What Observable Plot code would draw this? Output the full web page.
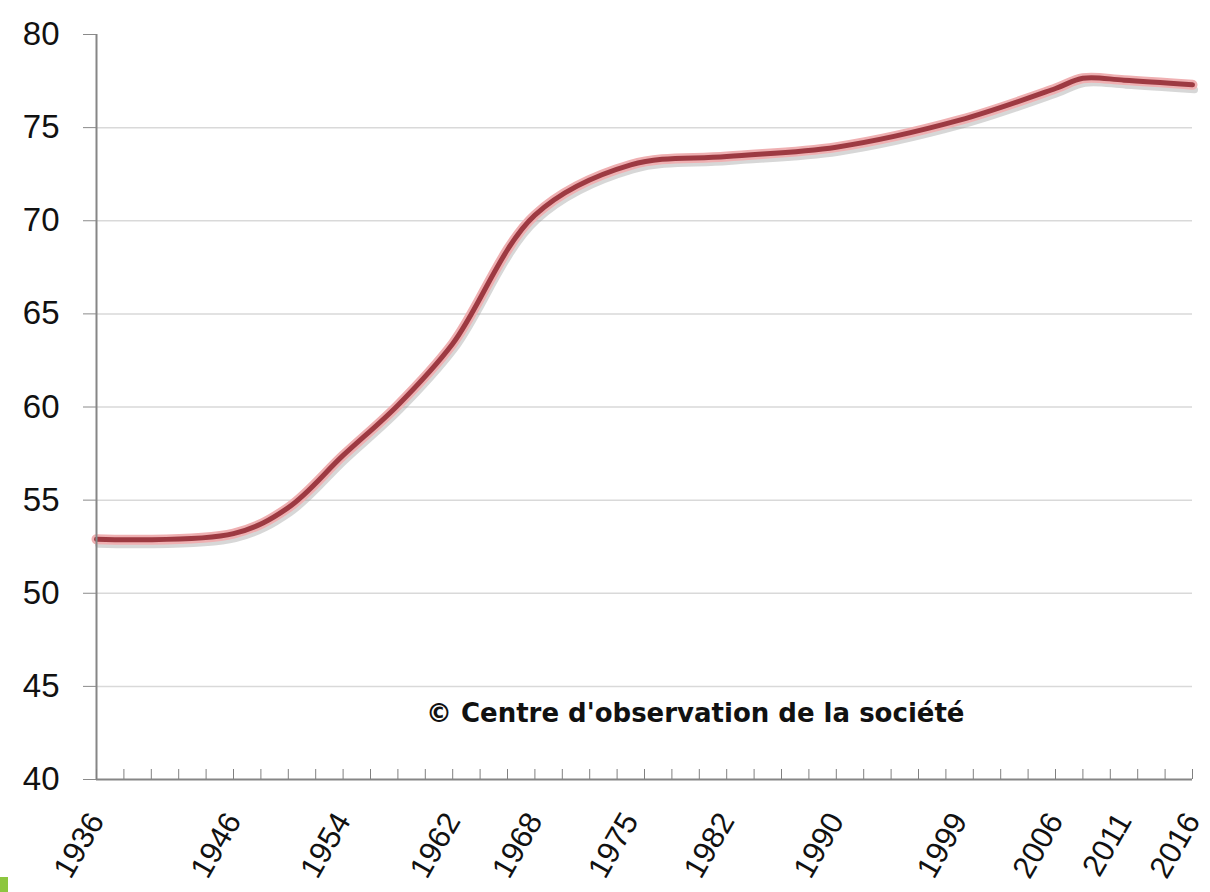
<!DOCTYPE html>
<html>
<head>
<meta charset="utf-8">
<script src="https://cdn.jsdelivr.net/npm/d3@7"></script>
<script src="https://cdn.jsdelivr.net/npm/@observablehq/plot@0.6"></script>
<style>
  html, body { margin: 0; padding: 0; background: #fff; }
  #chart { position: relative; width: 1210px; height: 892px; }
  #mark { position: absolute; left: 0; top: 877px; width: 8px; height: 15px; background: #8dc63f; }
</style>
</head>
<body>
<div id="chart"><div id="mark"></div></div>
<script>
// Data
const years  = [1936, 1946, 1950, 1954, 1958, 1962, 1968, 1975, 1982, 1990, 1999, 2006, 2008, 2011, 2016];
const values = [52.9, 53.2, 54.6, 57.4, 60.1, 63.4, 70.3, 73.0, 73.45, 73.95, 75.4, 77.1, 77.65, 77.55, 77.3];
const labelYears = [1936, 1946, 1954, 1962, 1968, 1975, 1982, 1990, 1999, 2006, 2011, 2016];
const minorTickYears = d3.range(1936, 2017, 2);
const yTicks = [40, 45, 50, 55, 60, 65, 70, 75, 80];
const gridValues = [45, 50, 55, 60, 65, 70, 75];
const copyright = "© Centre d'observation de la société";
const copyrightPos = {x: 1979.7, y: 43.55};

const data = years.map((y, i) => ({year: y, value: values[i]}));

const chart = Plot.plot({
  width: 1210,
  height: 892,
  marginLeft: 96,
  marginRight: 18,
  marginTop: 34,
  marginBottom: 113,
  style: {fontFamily: "'Liberation Sans', Arial, sans-serif", background: "#fff", overflow: "visible"},
  x: {domain: [1936, 2016], label: null},
  y: {domain: [40, 80], label: null},
  marks: [
    Plot.ruleY(gridValues, {stroke: "#d9d9d9", strokeWidth: 1.5}),
    // shadow
    Plot.line(data, {x: "year", y: "value", curve: "catmull-rom", stroke: "#9a9a9a", strokeWidth: 7, strokeOpacity: 0.4, dx: 2, dy: 5}),
    // halo
    Plot.line(data, {x: "year", y: "value", curve: "catmull-rom", stroke: "#efb0b2", strokeWidth: 10}),
    // core
    Plot.line(data, {x: "year", y: "value", curve: "catmull-rom", stroke: "#9d3a42", strokeWidth: 5}),
    Plot.ruleX([1936], {stroke: "#868686", strokeWidth: 2}),
    Plot.ruleY([40], {stroke: "#868686", strokeWidth: 2}),
    Plot.axisY({ticks: yTicks, tickSize: 13, tickPadding: 24, fontSize: 33, stroke: "#8a8a8a", color: "#111", tickFormat: d => d, label: null}),
    Plot.axisX({ticks: minorTickYears, tickSize: -10, tickFormat: () => "", stroke: "#808080", label: null}),
    Plot.axisX({ticks: labelYears, tickSize: 0, tickPadding: 36, tickRotate: -60, fontSize: 31, color: "#111", tickFormat: d => String(d), label: null}),
    Plot.text([copyright], {x: copyrightPos.x, y: copyrightPos.y, text: d => d, fontFamily: "'DejaVu Sans', sans-serif", fontSize: 26, fontWeight: "bold", fill: "#111", textAnchor: "middle", lineAnchor: "middle"})
  ]
});
document.getElementById("chart").appendChild(chart);
</script>
</body>
</html>
